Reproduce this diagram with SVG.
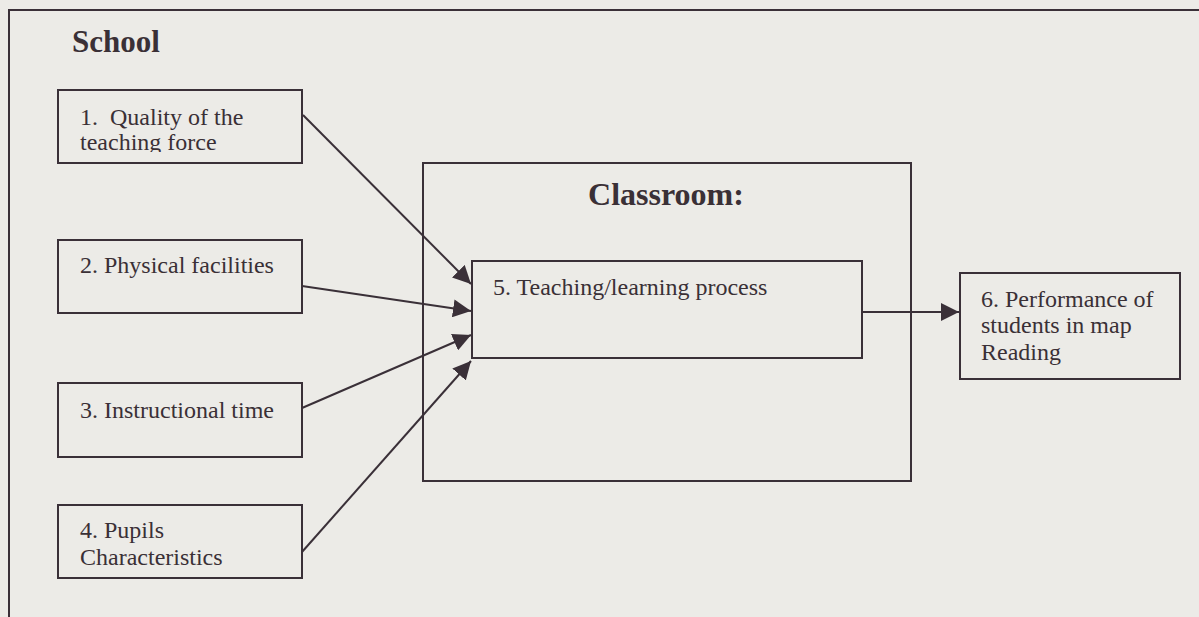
<svg xmlns="http://www.w3.org/2000/svg" width="1199" height="617" viewBox="0 0 1199 617">
<defs>
<style>
.bx{fill:none;stroke:#3a3038;stroke-width:2}
.t{font-family:"Liberation Serif","Times New Roman",serif;font-size:24px;fill:#3a3036}
.h{font-family:"Liberation Serif","Times New Roman",serif;font-weight:bold;fill:#3a3036}
.c{fill:none;stroke:#3a3038;stroke-width:2}
</style>
<marker id="ah2" viewBox="0 0 10 10" refX="10" refY="5" markerWidth="9" markerHeight="9" orient="auto" markerUnits="strokeWidth">
<path d="M0,0 L10,5 L0,10 z" fill="#3a3038"/>
</marker>
<clipPath id="clip1"><rect x="58" y="90" width="244" height="62"/></clipPath>
</defs>
<rect width="1199" height="617" fill="#ecebe7"/>
<g id="school">
<path d="M1199,10 H9 V617" class="bx"/>
<text class="h" x="72" y="52" font-size="31">School</text>
</g>
<g id="n1">
<rect x="58" y="90" width="244" height="73" class="bx"/>
<g clip-path="url(#clip1)">
<text class="t" x="80" y="125" xml:space="preserve">1.  Quality of the</text>
<text class="t" x="80" y="150">teaching force</text>
</g>
</g>
<g id="n2">
<rect x="58" y="240" width="244" height="73" class="bx"/>
<text class="t" x="80" y="273">2. Physical facilities</text>
</g>
<g id="n3">
<rect x="58" y="383" width="244" height="74" class="bx"/>
<text class="t" x="80" y="418">3. Instructional time</text>
</g>
<g id="n4">
<rect x="58" y="505" width="244" height="73" class="bx"/>
<text class="t" x="80" y="538">4. Pupils</text>
<text class="t" x="80" y="565">Characteristics</text>
</g>
<g id="classroom">
<rect x="423" y="163" width="488" height="318" class="bx"/>
<text class="h" x="666" y="205" font-size="32" text-anchor="middle">Classroom:</text>
</g>
<g id="n5">
<rect x="472" y="261" width="390" height="97" class="bx"/>
<text class="t" x="493" y="295">5. Teaching/learning process</text>
</g>
<g id="n6">
<rect x="960" y="273" width="220" height="106" class="bx"/>
<text class="t" x="981" y="307">6. Performance of</text>
<text class="t" x="981" y="333">students in map</text>
<text class="t" x="981" y="360">Reading</text>
</g>
<g id="connectors">
<line x1="303" y1="115" x2="471" y2="284" class="c" marker-end="url(#ah2)"/>
<line x1="302" y1="286" x2="471" y2="311" class="c" marker-end="url(#ah2)"/>
<line x1="302" y1="408" x2="471" y2="335" class="c" marker-end="url(#ah2)"/>
<line x1="302" y1="552" x2="471" y2="361" class="c" marker-end="url(#ah2)"/>
<line x1="862" y1="312" x2="959" y2="312" class="c" marker-end="url(#ah2)"/>
</g>
</svg>
